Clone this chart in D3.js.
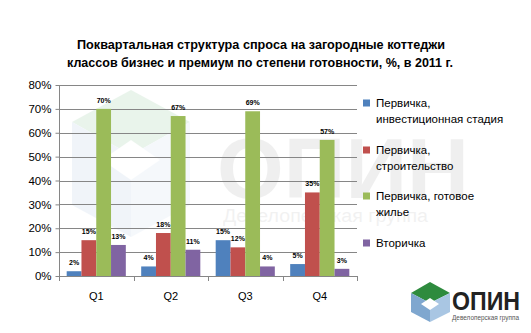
<!DOCTYPE html>
<html><head><meta charset="utf-8">
<script src="https://cdn.jsdelivr.net/npm/d3@7"></script>
<style>body{margin:0;background:#fff}svg{display:block}</style>
</head><body>
<svg id="c" width="531" height="333"></svg>
<script>
const categories = ["Q1","Q2","Q3","Q4"];
const seriesNames = ["Первичка, инвестиционная стадия","Первичка, строительство","Первичка, готовое жилье","Вторичка"];
const legendLines = [["Первичка,","инвестиционная стадия"],["Первичка,","строительство"],["Первичка, готовое","жилье"],["Вторичка"]];
const invest = [2,4,15,5];
const construction = [15,18,12,35];
const ready = [70,67,69,57];
const secondary = [13,11,4,3];
const yTicks = [0,10,20,30,40,50,60,70,80];
const colors = ["#4F81BD","#C0504D","#9BBB59","#8064A2"];
const titleLines = ["Поквартальная структура спроса на загородные коттеджи","классов бизнес и премиум по степени готовности, %, в 2011  г."];

const series = [invest, construction, ready, secondary];
const svg = d3.select("#c");
const font = "'Liberation Sans', Arial, sans-serif";

const L=59, R=357, T=85, B=276;
const x = d3.scaleBand().domain(categories).range([L,R]);
const xs = d3.scaleBand().domain(d3.range(4)).range([0,x.bandwidth()]).paddingOuter(0.52).paddingInner(0);
const y = d3.scaleLinear().domain([0,80]).range([B,T]);

// watermark (cube + name)
const wm = svg.append("g").attr("opacity",0.13);
wm.append("polygon").attr("points","131,90 190,122 131,155 72,122").attr("fill","#5FAF6F");
wm.append("polygon").attr("points","72,122 131,155 131,237 72,205").attr("fill","#8FB3D9");
wm.append("polygon").attr("points","131,155 190,122 190,205 131,237").attr("fill","#B5CDE8");
wm.append("polygon").attr("points","131,140 160,160 131,180 102,160").attr("fill","#fff");
svg.append("text").attr("x",217).attr("y",198)
  .attr("font-family",font).attr("font-weight","bold").attr("font-size",86)
  .attr("textLength",252).attr("lengthAdjust","spacingAndGlyphs")
  .attr("fill","#000").attr("opacity",0.06).text("ОПИН");
svg.append("text").attr("x",223).attr("y",222)
  .attr("font-family",font).attr("font-size",18).attr("textLength",205).attr("lengthAdjust","spacingAndGlyphs")
  .attr("fill","#000").attr("opacity",0.05).text("Девелоперская группа");

// title
svg.append("g").selectAll("text").data(titleLines).join("text")
  .attr("x",(d,i)=>i===0?261:260).attr("y",(d,i)=>49+i*18).attr("text-anchor","middle")
  .attr("font-family",font).attr("font-weight","bold").attr("font-size",13.5)
  .attr("textLength",(d,i)=>i===0?368:386).attr("lengthAdjust","spacingAndGlyphs")
  .attr("fill","#000").text(d=>d);

// gridlines
svg.append("g").selectAll("line").data(yTicks).join("line")
  .attr("x1",L).attr("x2",R).attr("y1",d=>Math.round(y(d))+0.5).attr("y2",d=>Math.round(y(d))+0.5)
  .attr("stroke","#868686").attr("stroke-width",1);

// bars
const g = svg.append("g");
series.forEach((s,si)=>{
  g.selectAll(null).data(s).join("rect")
    .attr("x",(d,i)=>x(categories[i])+xs(si))
    .attr("width",xs.bandwidth())
    .attr("y",d=>y(d)).attr("height",d=>B-y(d))
    .attr("fill",colors[si]);
  g.selectAll(null).data(s).join("text")
    .attr("x",(d,i)=>x(categories[i])+xs(si)+xs.bandwidth()/2)
    .attr("y",d=>y(d)-6).attr("text-anchor","middle")
    .attr("font-family",font).attr("font-weight","bold").attr("font-size",7)
    .attr("fill","#000").text(d=>d+"%");
});

// y axis
const yAxis = d3.axisLeft(y).tickValues(yTicks).tickFormat(d=>d+"%").tickSize(4).tickPadding(4);
const ya = svg.append("g").attr("transform",`translate(${L+0.5},0)`).call(yAxis);
ya.selectAll("line").attr("stroke","#868686");
ya.select(".domain").attr("stroke","#868686").attr("d",`M0,${T}V${B}`);
ya.selectAll("text").attr("font-family",font).attr("font-size",11.5).attr("fill","#000");

// x axis
const xa = svg.append("g").attr("transform",`translate(0,${B+0.5})`).call(d3.axisBottom(x).tickSize(0).tickPadding(16));
xa.select(".domain").attr("stroke","#868686").attr("d",`M${L},0H${R}`);
xa.selectAll("text").attr("font-family",font).attr("font-size",11).attr("fill","#000");
svg.append("g").selectAll("line").data(d3.range(5)).join("line")
  .attr("x1",i=>Math.round(L+i*x.step())+0.5).attr("x2",i=>Math.round(L+i*x.step())+0.5)
  .attr("y1",B).attr("y2",B+5).attr("stroke","#868686");

// legend
const legY = [103,150,196,243];
const lg = svg.append("g");
legendLines.forEach((lines,i)=>{
  lg.append("rect").attr("x",363).attr("y",legY[i]-3.5).attr("width",7).attr("height",7).attr("fill",colors[i]);
  lg.append("g").selectAll("text").data(lines).join("text")
    .attr("x",376).attr("y",(d,j)=>legY[i]+4+j*16)
    .attr("font-family",font).attr("font-size",11.5).attr("fill","#000").text(d=>d);
});

// logo
const logo = svg.append("g");
logo.append("polygon").attr("points","430,282 450,293 430,303 411,293").attr("fill","#2E8B3E");
logo.append("polygon").attr("points","411,293 430,303 430,322 411,312").attr("fill","#7FA7CF");
logo.append("polygon").attr("points","430,303 450,293 450,312 430,322").attr("fill","#A9C6E3");
logo.append("polygon").attr("points","430,298 439,304 430,310 421,304").attr("fill","#fff");
logo.append("text").attr("x",452).attr("y",310).attr("font-family",font).attr("font-weight","bold")
  .attr("font-size",25).attr("textLength",68).attr("lengthAdjust","spacingAndGlyphs").attr("fill","#222").text("ОПИН");
logo.append("text").attr("x",452).attr("y",320).attr("font-family",font)
  .attr("font-size",7).attr("textLength",67).attr("lengthAdjust","spacingAndGlyphs").attr("fill","#555").text("Девелоперская группа");
</script>
</body></html>
